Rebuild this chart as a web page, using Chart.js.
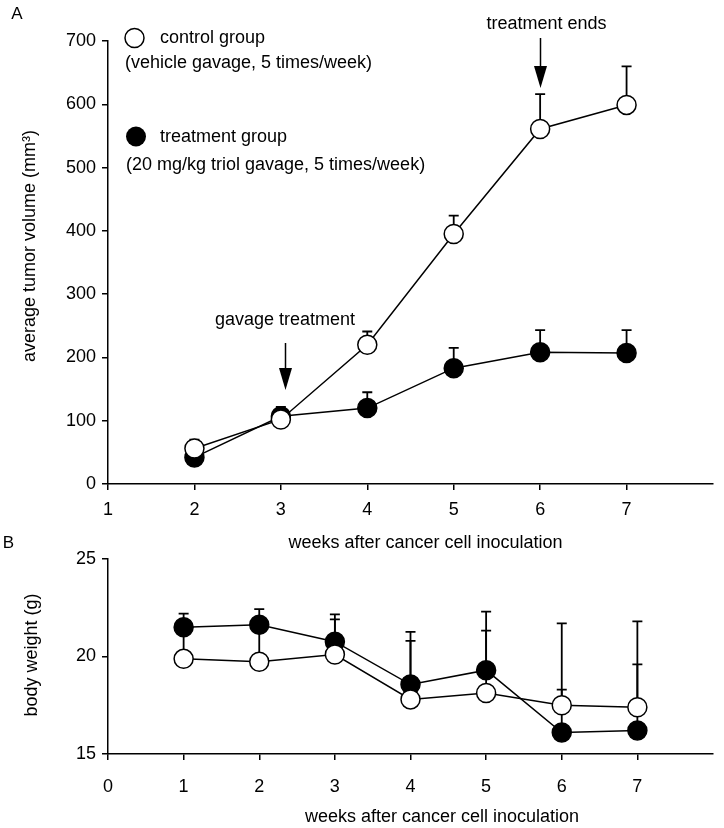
<!DOCTYPE html>
<html>
<head>
<meta charset="utf-8">
<script src="https://cdn.jsdelivr.net/npm/chart.js@4.4.1/dist/chart.umd.min.js"></script>
<style>
  body { margin: 0; background: #fff; }
  #wrap { position: relative; width: 724px; height: 828px; }
  canvas { position: absolute; left: 0; }
</style>
</head>
<body>
<div id="wrap">
  <canvas id="chartA" width="724" height="560" style="top:0"></canvas>
  <canvas id="chartB" width="724" height="308" style="top:520px"></canvas>
</div>
<script>
// panel A: tumor volume
const weeksA = [2, 3, 4, 5, 6, 7];
const controlVol = [56, 102, 220, 395, 561, 599];
const controlVolErr = [14, 20, 21, 29, 55, 61];
const treatVol = [42, 107, 120, 183, 208, 207];
const treatVolErr = [8, 12, 25, 32, 35, 36];
const ticksVolX = [1, 2, 3, 4, 5, 6, 7];

// panel B: body weight
const weeksB = [1, 2, 3, 4, 5, 6, 7];
const controlWt = [19.88, 19.73, 20.1, 17.8, 18.13, 17.5, 17.4];
const controlWtErr = [1.5, 1.8, 1.8, 3.0, 3.2, 4.2, 4.4];
const treatWt = [21.5, 21.63, 20.76, 18.56, 19.3, 16.1, 16.2];
const treatWtErr = [0.7, 0.8, 1.4, 2.7, 3.0, 2.2, 3.4];
const ticksWtX = [0, 1, 2, 3, 4, 5, 6, 7];

const FONT = "'Liberation Sans', Arial, sans-serif";

function pts(xs, ys) {
  return xs.map((x, i) => ({ x: x, y: ys[i] }));
}

function series(label, xs, ys, fill) {
  return {
    label: label,
    data: pts(xs, ys),
    borderColor: '#000',
    borderWidth: 1.5,
    pointRadius: 9.5,
    pointBorderWidth: 1.5,
    pointBorderColor: '#000',
    pointBackgroundColor: fill,
    tension: 0,
    clip: false
  };
}

// upper error bars, drawn behind the markers
function errorBars(list) {
  return {
    id: 'errorBars',
    beforeDatasetsDraw(chart) {
      const ctx = chart.ctx;
      const xs = chart.scales.x, ys = chart.scales.y;
      ctx.save();
      ctx.strokeStyle = '#000';
      ctx.lineWidth = 1.8;
      list.forEach(s => {
        s.x.forEach((xv, i) => {
          const px = xs.getPixelForValue(xv);
          const y0 = ys.getPixelForValue(s.y[i]);
          const y1 = ys.getPixelForValue(s.y[i] + s.err[i]);
          ctx.beginPath();
          ctx.moveTo(px, y0);
          ctx.lineTo(px, y1);
          ctx.moveTo(px - 5, y1);
          ctx.lineTo(px + 5, y1);
          ctx.stroke();
        });
      });
      ctx.restore();
    }
  };
}

function arrow(ctx, x, y0, y1) {
  ctx.beginPath();
  ctx.moveTo(x, y0);
  ctx.lineTo(x, y1 - 18);
  ctx.stroke();
  ctx.beginPath();
  ctx.moveTo(x - 6.5, y1 - 22);
  ctx.lineTo(x + 6.5, y1 - 22);
  ctx.lineTo(x, y1);
  ctx.closePath();
  ctx.fill();
}

function text(ctx, s, x, y, align) {
  ctx.textAlign = align || 'center';
  ctx.fillText(s, x, y);
}

function vtext(ctx, s, x, y) {
  ctx.save();
  ctx.translate(x, y);
  ctx.rotate(-Math.PI / 2);
  ctx.textAlign = 'center';
  ctx.fillText(s, 0, 0);
  ctx.restore();
}

function axisOpts(min, max, step, pad, keep) {
  return {
    type: 'linear',
    min: min,
    max: max,
    afterBuildTicks: keep ? (s) => { s.ticks = keep.map(v => ({ value: v })); } : undefined,
    ticks: { stepSize: step, color: '#000', padding: pad, font: { family: FONT, size: 18 } },
    grid: { drawOnChartArea: false, drawTicks: true, tickLength: 6, color: '#000', lineWidth: 1.5 },
    border: { display: true, color: '#000', width: 1.5 }
  };
}

const annotA = {
  id: 'annotA',
  afterDraw(chart) {
    const ctx = chart.ctx;
    ctx.save();
    ctx.fillStyle = '#000';
    ctx.strokeStyle = '#000';
    ctx.lineWidth = 1.5;
    ctx.textBaseline = 'middle';
    ctx.font = '17px ' + FONT;
    text(ctx, 'A', 17, 14);
    ctx.font = '18px ' + FONT;
    // legend
    ctx.beginPath();
    ctx.arc(134.5, 38, 9.5, 0, Math.PI * 2);
    ctx.fillStyle = '#fff';
    ctx.fill();
    ctx.stroke();
    ctx.beginPath();
    ctx.arc(136, 136.5, 10, 0, Math.PI * 2);
    ctx.fillStyle = '#000';
    ctx.fill();
    text(ctx, 'control group', 160, 38, 'left');
    text(ctx, '(vehicle gavage, 5 times/week)', 125, 63, 'left');
    text(ctx, 'treatment group', 160, 137, 'left');
    text(ctx, '(20 mg/kg triol gavage, 5 times/week)', 126, 165, 'left');
    // arrows
    text(ctx, 'gavage treatment', 285, 320);
    arrow(ctx, 285.5, 343, 390);
    text(ctx, 'treatment ends', 546.5, 24);
    arrow(ctx, 540.5, 38, 88);
    // axis titles
    text(ctx, 'weeks after cancer cell inoculation', 425.5, 543);
    vtext(ctx, 'average tumor volume (mm\u00B3)', 30, 246);
    ctx.restore();
  }
};

const annotB = {
  id: 'annotB',
  afterDraw(chart) {
    const ctx = chart.ctx;
    ctx.save();
    ctx.fillStyle = '#000';
    ctx.textBaseline = 'middle';
    ctx.font = '17px ' + FONT;
    text(ctx, 'B', 8.5, 23);
    ctx.font = '18px ' + FONT;
    text(ctx, 'weeks after cancer cell inoculation', 442, 297);
    vtext(ctx, 'body weight (g)', 32.5, 135);
    ctx.restore();
  }
};

new Chart(document.getElementById('chartA'), {
  type: 'line',
  data: {
    datasets: [
      series('control group', weeksA, controlVol, '#fff'),
      series('treatment group', weeksA, treatVol, '#000')
    ]
  },
  options: {
    responsive: false,
    animation: false,
    devicePixelRatio: 1,
    layout: { padding: { top: 41, left: 0, right: 4, bottom: 0 } },
    plugins: { legend: { display: false }, tooltip: { enabled: false } },
    scales: {
      x: Object.assign(axisOpts(1, 8, 1, 9, ticksVolX), { afterFit: (s) => { s.height = 76; } }),
      y: Object.assign(axisOpts(0, 700, 100, 6), { afterFit: (s) => { s.width = 108; } })
    }
  },
  plugins: [
    errorBars([
      { x: weeksA, y: controlVol, err: controlVolErr },
      { x: weeksA, y: treatVol, err: treatVolErr }
    ]),
    annotA
  ]
});

new Chart(document.getElementById('chartB'), {
  type: 'line',
  data: {
    datasets: [
      series('control group', weeksB, controlWt, '#fff'),
      series('treatment group', weeksB, treatWt, '#000')
    ]
  },
  options: {
    responsive: false,
    animation: false,
    devicePixelRatio: 1,
    layout: { padding: { top: 39, left: 0, right: 6, bottom: 0 } },
    plugins: { legend: { display: false }, tooltip: { enabled: false } },
    scales: {
      x: Object.assign(axisOpts(0, 8, 1, 16, ticksWtX), { afterFit: (s) => { s.height = 74; } }),
      y: Object.assign(axisOpts(15, 25, 5, 6), { afterFit: (s) => { s.width = 108; } })
    }
  },
  plugins: [
    errorBars([
      { x: weeksB, y: controlWt, err: controlWtErr },
      { x: weeksB, y: treatWt, err: treatWtErr }
    ]),
    annotB
  ]
});
</script>
</body>
</html>
